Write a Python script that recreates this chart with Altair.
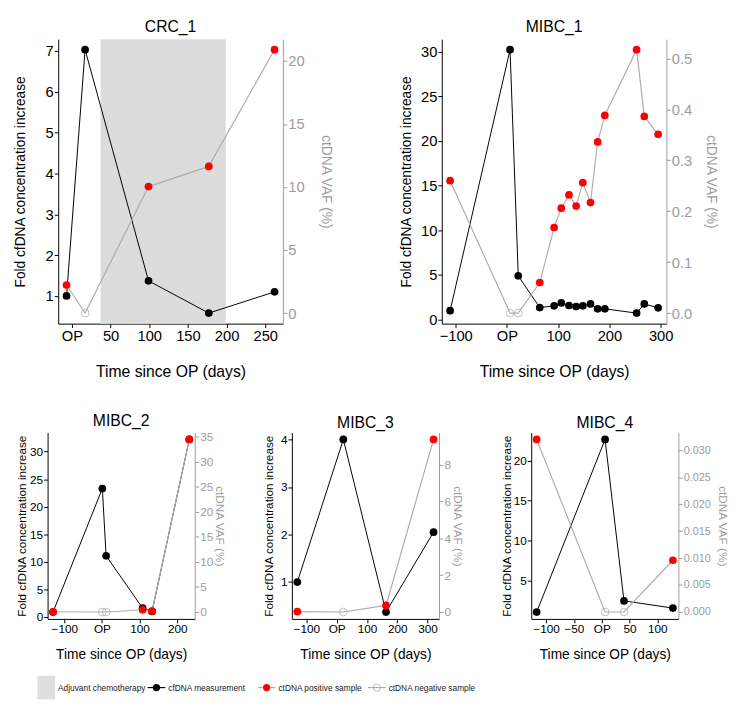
import altair as alt
import pandas as pd

# ---------------- data ----------------
crc1_days = [-7, 17, 99, 177, 262]
crc1_fold = [1.0, 7.03, 1.37, 0.58, 1.1]
crc1_vaf = [2.23, 0.0, 10.04, 11.64, 20.9]
crc1_pos = [True, False, True, True, True]
crc1_chemo = [37, 199]

mibc1_days = [-111, 6, 22, 64, 92, 106, 121, 135, 148, 163, 177, 191, 253, 268, 295]
mibc1_fold = [1.0, 30.2, 4.9, 1.35, 1.54, 1.87, 1.58, 1.46, 1.54, 1.76, 1.21, 1.21, 0.73, 1.76, 1.32]
mibc1_vaf = [0.26, 0.0, 0.0, 0.06, 0.168, 0.206, 0.232, 0.21, 0.256, 0.217, 0.336, 0.388, 0.517, 0.386, 0.351]
mibc1_pos = [True, False, False] + [True] * 12

mibc2_days = [-130, 1, 11, 108, 133, 232]
mibc2_fold = [0.9, 23.3, 11.1, 1.6, 1.0, 32.2]
mibc2_vaf = [0.05, 0.0, 0.0, 0.45, 0.2, 34.5]
mibc2_pos = [True, False, False, True, True, True]

mibc3_days = [-130, 22, 163, 320]
mibc3_fold = [1.0, 4.0, 0.37, 2.05]
mibc3_vaf = [0.02, 0.0, 0.36, 9.37]
mibc3_pos = [True, False, True, True]

mibc4_days = [-117, 6, 40, 128]
mibc4_fold = [1.0, 22.7, 2.4, 1.5]
mibc4_vaf = [0.032, 0.0, 0.0, 0.0096]
mibc4_pos = [True, False, False, True]

legend_labels = ["Adjuvant chemotherapy", "cfDNA measurement",
                 "ctDNA positive sample", "ctDNA negative sample"]
legend_kinds = ["box", "fold", "pos", "neg"]

FONT = "Liberation Sans"
GRAY_AX = "#9c9c9c"
GRAY_LINE = "#b3ada6"
GRAY_PT = "#aaa5a0"
CHEMO = "#dcdcdc"

TOP = dict(w=229, h=290, lab=15, xt=16, yt=14, rlab=15, xtp=21, toff=4)
BOT = dict(w=150, h=190, lab=12, xt=14, yt=12, rlab=12, xtp=13, toff=2)


def padded(vals, frac=0.04):
    lo, hi = min(vals), max(vals)
    r = hi - lo
    return [lo - frac * r, hi + frac * r]


def panel(name, days, fold, vaf, pos, xticks, lticks, rticks, rfmt, st,
          ltp, rtp, rlab=None, chemo=None):
    df = pd.DataFrame({"day": days, "fold": fold, "vaf": vaf, "pos": pos})
    xscale = alt.Scale(domain=padded(days), nice=False, zero=False)
    xaxis = alt.Axis(values=xticks, labelExpr="datum.value == 0 ? 'OP' : datum.label",
                     title="Time since OP (days)", titleFontSize=st["xt"],
                     labelFontSize=st["lab"], titlePadding=st["xtp"],
                     labelFlush=False, labelOverlap=False)
    x = alt.X("day:Q", scale=xscale, axis=xaxis)

    yl = alt.Y("fold:Q", scale=alt.Scale(domain=padded(fold), nice=False, zero=False),
               axis=alt.Axis(values=lticks, format="d", orient="left",
                             title="Fold cfDNA concentration increase",
                             titleFontSize=st["yt"], labelFontSize=st["lab"],
                             titlePadding=ltp, labelOverlap=False))
    yr = alt.Y("vaf:Q", scale=alt.Scale(domain=padded(vaf), nice=False, zero=False),
               axis=alt.Axis(values=rticks, format=rfmt, orient="right",
                             title="ctDNA VAF (%)", titleFontSize=st["yt"],
                             labelFontSize=rlab or st["rlab"], titlePadding=rtp,
                             labelColor=GRAY_AX, titleColor=GRAY_AX,
                             domainColor=GRAY_AX, tickColor=GRAY_AX,
                             labelOverlap=False))

    left_layers = []
    if chemo is not None:
        cdf = pd.DataFrame({"start": [chemo[0]], "end": [chemo[1]]})
        left_layers.append(
            alt.Chart(cdf).mark_rect(color=CHEMO).encode(
                x=alt.X("start:Q", scale=xscale, axis=xaxis), x2="end:Q"))
    left_layers.append(alt.Chart(df).mark_line(color="black", strokeWidth=1).encode(x=x, y=yl))
    left_layers.append(alt.Chart(df).mark_circle(color="black", size=62, opacity=1).encode(x=x, y=yl))
    left = alt.layer(*left_layers)

    right = alt.layer(
        alt.Chart(df).mark_line(color=GRAY_LINE, strokeWidth=1.2).encode(x=x, y=yr),
        alt.Chart(df).transform_filter("datum.pos").mark_circle(
            color="#ff0000", size=62, opacity=1).encode(x=x, y=yr),
        alt.Chart(df).transform_filter("!datum.pos").mark_point(
            color=GRAY_PT, size=62, strokeWidth=1, filled=False).encode(x=x, y=yr),
    )
    return alt.layer(left, right).resolve_scale(y="independent").properties(
        width=st["w"], height=st["h"],
        title=alt.TitleParams(name, fontSize=16, fontWeight="normal", font=FONT,
                              offset=st["toff"]))


top = alt.hconcat(
    panel("CRC_1", crc1_days, crc1_fold, crc1_vaf, crc1_pos,
          [0, 50, 100, 150, 200, 250], [1, 2, 3, 4, 5, 6, 7], [0, 5, 10, 15, 20], "d",
          TOP, ltp=18, rtp=15, chemo=crc1_chemo),
    panel("MIBC_1", mibc1_days, mibc1_fold, mibc1_vaf, mibc1_pos,
          [-100, 0, 100, 200, 300], [0, 5, 10, 15, 20, 25, 30],
          [0.0, 0.1, 0.2, 0.3, 0.4, 0.5], ".1f", TOP, ltp=7, rtp=12),
    spacing=68,
)

bottom = alt.hconcat(
    panel("MIBC_2", mibc2_days, mibc2_fold, mibc2_vaf, mibc2_pos,
          [-100, 0, 100, 200], [0, 5, 10, 15, 20, 25, 30],
          [0, 5, 10, 15, 20, 25, 30, 35], "d", BOT, ltp=1, rtp=0),
    panel("MIBC_3", mibc3_days, mibc3_fold, mibc3_vaf, mibc3_pos,
          [-100, 0, 100, 200, 300], [1, 2, 3, 4], [0, 2, 4, 6, 8], "d",
          BOT, ltp=5, rtp=0),
    panel("MIBC_4", mibc4_days, mibc4_fold, mibc4_vaf, mibc4_pos,
          [-100, -50, 0, 50, 100], [5, 10, 15, 20],
          [0.0, 0.005, 0.01, 0.015, 0.02, 0.025, 0.03], ".3f",
          BOT, ltp=0, rtp=5, rlab=11),
    spacing=37,
)

# ---------------- legend row ----------------
ldf = pd.DataFrame({"label": legend_labels, "kind": legend_kinds})
lx = alt.X("label:N", scale=alt.Scale(type="point", domain=legend_labels,
                                      range=[2, 339], padding=0),
           axis=None)
ly = alt.value(12)
legend = alt.layer(
    alt.Chart(ldf).transform_filter("datum.kind == 'box'").mark_tick(
        orient="vertical", thickness=18, size=24, color="#dedede", opacity=1).encode(x=lx, y=ly),
    alt.Chart(ldf).transform_filter("datum.kind != 'box'").mark_tick(
        orient="horizontal", size=18, thickness=1.2, opacity=1).encode(
        x=lx, y=ly,
        color=alt.Color("kind:N", scale=alt.Scale(domain=["fold", "pos", "neg"],
                                                  range=["black", GRAY_LINE, GRAY_LINE]),
                        legend=None)),
    alt.Chart(ldf).transform_filter("datum.kind == 'fold'").mark_circle(
        color="black", size=55, opacity=1).encode(x=lx, y=ly),
    alt.Chart(ldf).transform_filter("datum.kind == 'pos'").mark_circle(
        color="#ff0000", size=55, opacity=1).encode(x=lx, y=ly),
    alt.Chart(ldf).transform_filter("datum.kind == 'neg'").mark_point(
        color=GRAY_PT, size=55, filled=False, strokeWidth=1).encode(x=lx, y=ly),
    alt.Chart(ldf).mark_text(align="left", baseline="middle", dx=12, fontSize=8.5,
                             font=FONT, color="#222222").encode(
        x=lx, y=ly, text="label:N"),
).properties(width=700, height=24)

chart = alt.vconcat(
    alt.vconcat(top, bottom, spacing=34, center=True),
    legend, spacing=15, center=True,
).properties(
    padding={"left": 5, "top": 5, "right": 0, "bottom": 0}
).configure_view(
    stroke=None
).configure_axis(
    grid=False, labelFont=FONT, titleFont=FONT, titleFontWeight="normal",
    labelColor="black", titleColor="black", domainColor="black", tickColor="black",
    tickSize=4, labelPadding=1, domainWidth=1, tickWidth=1,
)

chart.save("out.html", embed_options={"renderer": "svg", "actions": False})
